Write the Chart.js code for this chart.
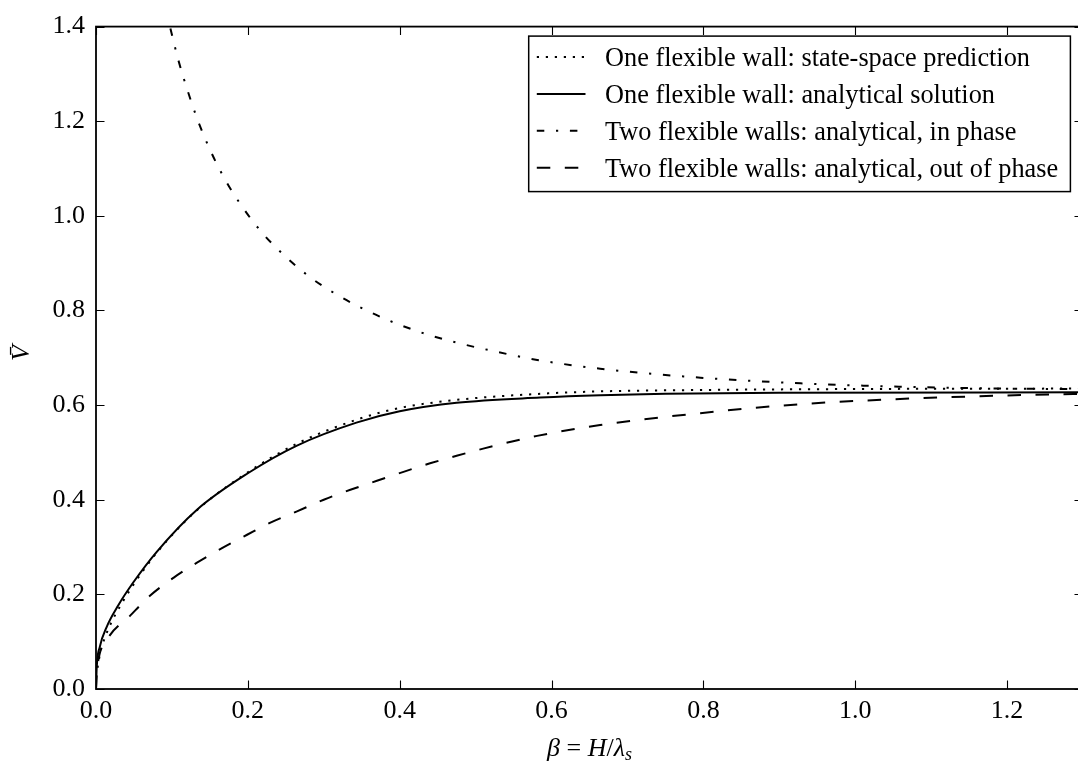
<!DOCTYPE html>
<html><head><meta charset="utf-8">
<script src="https://cdn.jsdelivr.net/npm/chart.js@4.4.1/dist/chart.umd.min.js"></script>
<style>
html,body{margin:0;padding:0;overflow:hidden;background:#fff;width:1078px;height:762px}
#wrap{position:absolute;left:0;top:0;width:1090px;height:762px}
</style></head>
<body><div id="wrap"><canvas id="c" width="1090" height="762"></canvas></div>
<script>
// ---- data ----
const xTickValues = [0.0, 0.2, 0.4, 0.6, 0.8, 1.0, 1.2];
const yTickValues = [0.0, 0.2, 0.4, 0.6, 0.8, 1.0, 1.2, 1.4];
const seriesLabels = [
  "One flexible wall: state-space prediction",
  "One flexible wall: analytical solution",
  "Two flexible walls: analytical, in phase",
  "Two flexible walls: analytical, out of phase"
];
const xLabelParts = [["β", true], [" = ", false], ["H", true], ["/", false], ["λ", true]];
const xLabelSub = "s";
const yLabelText = "V\u0304";

const ssX = [0.002,0.006,0.012,0.02,0.03,0.05,0.08,0.133,0.2,0.264,0.343,0.4,0.475,0.585,0.664,0.8,1.0,1.3];
const ssY = [0.045,0.08,0.11,0.14,0.17,0.222,0.288,0.378,0.458,0.518,0.569,0.594,0.611,0.624,0.629,0.632,0.634,0.635];

const oneX = [0,0.001,0.005,0.014,0.029,0.049,0.08,0.133,0.2,0.264,0.343,0.4,0.475,0.585,0.664,0.75,0.9,1.3];
const oneY = [0,0.047,0.089,0.131,0.176,0.225,0.29,0.379,0.456,0.514,0.563,0.587,0.605,0.616,0.621,0.624,0.626,0.627];

const inX = [0.098,0.1085,0.121,0.135,0.1515,0.171,0.194,0.22,0.251,0.284,0.321,0.359,0.398,0.439,0.48,0.524,0.583,0.664,0.796,0.928,1.059,1.191,1.3];
const inY = [1.396,1.329,1.263,1.198,1.135,1.074,1.016,0.962,0.912,0.868,0.830,0.798,0.771,0.748,0.730,0.714,0.695,0.677,0.658,0.646,0.639,0.635,0.634];

const outX = [0,0.001,0.003,0.014,0.045,0.071,0.102,0.133,0.163,0.199,0.229,0.264,0.3,0.335,0.37,0.405,0.44,0.475,0.51,0.545,0.581,0.664,0.796,0.928,1.059,1.191,1.3];
const outY = [0,0.03,0.06,0.103,0.155,0.197,0.235,0.267,0.295,0.326,0.351,0.375,0.4,0.421,0.44,0.459,0.477,0.493,0.508,0.522,0.535,0.558,0.583,0.602,0.613,0.620,0.624];

// ---- build ----
const FONT = "'Liberation Serif', 'DejaVu Serif', serif";
const pts = (xs, ys) => xs.map((x, i) => ({x: x, y: ys[i]}));
const mk = (label, xs, ys, dash) => ({
  label, data: pts(xs, ys), borderColor: '#000', borderWidth: 2, borderDash: dash,
  pointRadius: 0, fill: false, cubicInterpolationMode: 'monotone', borderCapStyle: 'butt'
});
const datasets = [
  mk(seriesLabels[0], ssX, ssY, [2.2, 6.8]),
  mk(seriesLabels[1], oneX, oneY, []),
  mk(seriesLabels[2], inX, inY, [7.5, 11.7, 2.2, 11.7]),
  mk(seriesLabels[3], outX, outY, [13.5, 14.5])
];

const decorPlugin = {
  id: 'decor',
  afterDraw(chart) {
    const ctx = chart.ctx, a = chart.chartArea;
    const xs = chart.scales.x, ys = chart.scales.y;
    ctx.save();
    // frame
    ctx.strokeStyle = '#000'; ctx.lineWidth = 1.8;
    ctx.strokeRect(a.left, a.top, a.right - a.left, a.bottom - a.top);
    // inward ticks
    ctx.lineWidth = 1.1;
    const TL = 8.5;
    ctx.beginPath();
    xTickValues.forEach(v => {
      const p = Math.round(xs.getPixelForValue(v)) + 0.5;
      ctx.moveTo(p, a.bottom); ctx.lineTo(p, a.bottom - TL);
      ctx.moveTo(p, a.top); ctx.lineTo(p, a.top + TL);
    });
    yTickValues.forEach(v => {
      const p = Math.round(ys.getPixelForValue(v)) + 0.5;
      ctx.moveTo(a.left, p); ctx.lineTo(a.left + TL, p);
      ctx.moveTo(a.right, p); ctx.lineTo(a.right - TL, p);
    });
    ctx.stroke();

    // legend
    const L = {left: 528.7, top: 36.1, right: 1070.4, bottom: 191.6};
    ctx.fillStyle = '#fff';
    ctx.fillRect(L.left, L.top, L.right - L.left, L.bottom - L.top);
    ctx.lineWidth = 1.5; ctx.strokeStyle = '#000';
    ctx.strokeRect(L.left, L.top, L.right - L.left, L.bottom - L.top);
    ctx.font = "26.3px " + FONT;
    ctx.fillStyle = '#000';
    ctx.textBaseline = 'alphabetic';
    ctx.textAlign = 'left';
    chart.data.datasets.forEach((ds, i) => {
      const cy = 57 + i * 36.9;
      ctx.save();
      ctx.lineWidth = ds.borderWidth; ctx.setLineDash(ds.borderDash || []);
      ctx.lineCap = 'butt';
      ctx.beginPath(); ctx.moveTo(536.8, cy); ctx.lineTo(585.5, cy); ctx.stroke();
      ctx.restore();
      ctx.fillText(ds.label, 605, cy + 9);
    });

    // x title
    let parts = xLabelParts.map(p => ({t: p[0], it: p[1], size: 26}));
    parts.push({t: xLabelSub, it: true, size: 18, sub: true});
    let total = 0;
    parts.forEach(p => { ctx.font = (p.it ? 'italic ' : '') + p.size + 'px ' + FONT; p.w = ctx.measureText(p.t).width; total += p.w; });
    let x = (a.left + a.right) / 2 - total / 2;
    const base = 756;
    parts.forEach(p => {
      ctx.font = (p.it ? 'italic ' : '') + p.size + 'px ' + FONT;
      ctx.fillText(p.t, x, base + (p.sub ? 4 : 0));
      x += p.w;
    });

    // y title
    ctx.save();
    ctx.translate(22, 353);
    ctx.rotate(-Math.PI / 2);
    ctx.font = 'italic 26px ' + FONT;
    ctx.textAlign = 'center'; ctx.textBaseline = 'middle';
    ctx.fillText(yLabelText, 0, 0);
    ctx.restore();
    ctx.restore();
  }
};

new Chart(document.getElementById('c'), {
  type: 'line',
  data: { datasets },
  options: {
    responsive: false, animation: false, parsing: true,
    layout: { padding: { left: 0, top: 21, right: 7, bottom: 0 } },
    plugins: { legend: { display: false }, tooltip: { enabled: false } },
    scales: {
      x: {
        type: 'linear', min: 0, max: 1.3,
        grid: { display: false, drawTicks: false, tickLength: 0 },
        border: { display: false },
        ticks: { includeBounds: false, padding: 7, color: '#000', font: { family: FONT, size: 26 },
          maxRotation: 0, autoSkip: false, callback: v => Number(v).toFixed(1) },
        afterBuildTicks: s => { s.ticks = xTickValues.map(v => ({value: v})); },
        afterFit: s => { s.height = 73; }
      },
      y: {
        type: 'linear', min: 0, max: 1.4,
        grid: { display: false, drawTicks: false, tickLength: 0 },
        border: { display: false },
        ticks: { includeBounds: false, padding: 11, color: '#000', font: { family: FONT, size: 26 },
          autoSkip: false, callback: v => Number(v).toFixed(1) },
        afterBuildTicks: s => { s.ticks = yTickValues.map(v => ({value: v})); },
        afterFit: s => { s.width = 96; }
      }
    }
  },
  plugins: [decorPlugin]
});
</script>
</body></html>
